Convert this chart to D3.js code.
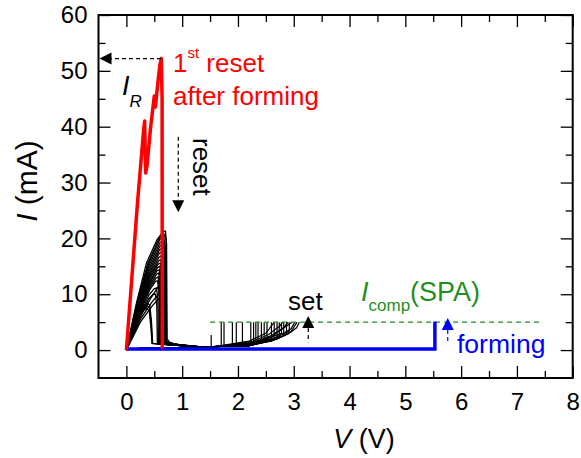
<!DOCTYPE html>
<html>
<head>
<meta charset="utf-8">
<script src="https://cdn.jsdelivr.net/npm/d3@7"></script>
<style>
  body { margin: 0; background: #fff; }
  text { font-family: "Liberation Sans", Arial, sans-serif; }
</style>
</head>
<body>
<div class="chart"></div>
<script>
// tick values
var xMajor = [0, 1, 2, 3, 4, 5, 6, 7, 8];
var xMinor = [0.5, 1.5, 2.5, 3.5, 4.5, 5.5, 6.5, 7.5];
var yMajor = [0, 10, 20, 30, 40, 50, 60];
var yMinor = [5, 15, 25, 35, 45, 55];

// forming sweep (blue) [V, mA]
var forming = [[0, 0.2], [5.53, 0.2], [5.53, 5.1]];

// first reset after forming (red)
var firstReset = [[0, 0], [0.2, 26.5], [0.31, 39.5], [0.327, 41], [0.345, 31.7], [0.37, 33],
  [0.43, 39.5], [0.5, 45.5], [0.52, 43.5], [0.56, 47.5], [0.6, 51], [0.625, 52.2],
  [0.64, 45], [0.643, 0.5], [0.66, 0.3]];

// repeated reset sweeps (black)
var resetCycles = [
  [[0, 0], [0.18, 8.4], [0.36, 15.6], [0.55, 19.8], [0.66, 21.2], [0.7, 21.3], [0.72, 19], [0.73, 2], [0.8, 1.0], [1.0, 0.8], [1.5, 0.5]],
  [[0, 0], [0.19, 8.5], [0.38, 15.4], [0.58, 19.9], [0.67, 20.8], [0.71, 20], [0.72, 1.6], [0.9, 0.9], [1.5, 0.5]],
  [[0, 0], [0.2, 8.5], [0.4, 15.5], [0.6, 19.8], [0.67, 20.3], [0.7, 18], [0.71, 1.5], [0.9, 0.9], [1.5, 0.5]],
  [[0, 0], [0.2, 8.2], [0.4, 15], [0.6, 19.2], [0.66, 19.6], [0.69, 17.5], [0.7, 1.5], [1.0, 0.8], [1.5, 0.45]],
  [[0, 0], [0.2, 8], [0.4, 14.5], [0.6, 18.6], [0.65, 19], [0.68, 17], [0.69, 1.5], [1.0, 0.8], [1.5, 0.45]],
  [[0, 0], [0.2, 7.8], [0.4, 14], [0.59, 17.9], [0.64, 18.3], [0.67, 16], [0.68, 1.4], [1.0, 0.8], [1.5, 0.45]],
  [[0, 0], [0.2, 7.5], [0.4, 13.5], [0.58, 17.2], [0.63, 17.6], [0.66, 15], [0.67, 1.4], [1.0, 0.8], [1.5, 0.45]],
  [[0, 0], [0.21, 7.5], [0.41, 13.3], [0.58, 16.6], [0.625, 16.9], [0.655, 14], [0.665, 1.3], [1.5, 0.4]],
  [[0, 0], [0.22, 7.6], [0.42, 13.2], [0.58, 16], [0.62, 16.2], [0.645, 13], [0.655, 1.3], [1.5, 0.4]],
  [[0, 0], [0.22, 7.4], [0.42, 12.8], [0.57, 15.4], [0.61, 15.6], [0.635, 12.5], [0.645, 1.2], [1.5, 0.4]],
  [[0, 0], [0.22, 7.2], [0.42, 12.3], [0.56, 14.8], [0.6, 15], [0.625, 12], [0.635, 1.2], [1.5, 0.4]],
  [[0, 0], [0.22, 7], [0.42, 12], [0.55, 14.2], [0.59, 14.4], [0.615, 11.5], [0.625, 1.2], [1.5, 0.4]],
  [[0, 0], [0.22, 6.8], [0.42, 11.6], [0.54, 13.6], [0.58, 13.8], [0.605, 11], [0.615, 1.2], [1.5, 0.4]],
  [[0, 0], [0.22, 6.5], [0.42, 11.2], [0.53, 12.9], [0.57, 13.1], [0.595, 10.5], [0.605, 1.1], [1.5, 0.4]],
  [[0, 0], [0.22, 6.3], [0.42, 10.8], [0.52, 12.3], [0.56, 12.4], [0.585, 10], [0.595, 1.1], [1.5, 0.4]],
  [[0, 0], [0.22, 5.8], [0.4, 9.8], [0.5, 11], [0.54, 11.1], [0.565, 9], [0.575, 1.1], [1.5, 0.4]],
  [[0, 0], [0.22, 5.5], [0.4, 9.2], [0.48, 10], [0.52, 10], [0.545, 8], [0.555, 1.1], [1.5, 0.4]],
  [[0, 0], [0.15, 4.5], [0.3, 7.8], [0.38, 8.4], [0.42, 8], [0.45, 5], [0.47, 1.2], [1.5, 0.4]],
  [[0, 0], [0.15, 4.2], [0.3, 7.3], [0.37, 7.9], [0.415, 7.5], [0.445, 4.5], [0.465, 1.2], [1.5, 0.4]],
  [[0, 0], [0.15, 4], [0.3, 7], [0.36, 7.5], [0.41, 7], [0.44, 4], [0.46, 1.2], [1.5, 0.4]],
  [[0, 0], [0.25, 6], [0.45, 9.5], [0.58, 11.5], [0.63, 11.8], [0.655, 9], [0.665, 1.2], [1.5, 0.4]],
  [[0, 0], [0.25, 5.5], [0.45, 8.5], [0.6, 10.3], [0.65, 10.5], [0.675, 8], [0.685, 1.2], [1.5, 0.4]],
  [[0, 0], [0.25, 5], [0.47, 8], [0.62, 9.6], [0.67, 9.8], [0.695, 7], [0.705, 1.2], [1.5, 0.4]]
];

// repeated set sweeps (black), stopped at compliance
var setCycles = [
  [[0, 0.2], [1.5, 0.5], [1.52, 0.6], [1.52, 2.7]],
  [[0, 0.2], [1.5, 0.6], [1.7, 0.7], [1.7, 5]],
  [[0, 0.2], [1.5, 0.6], [1.75, 0.7], [1.75, 5]],
  [[0, 0.2], [1.5, 0.6], [1.9, 0.7], [1.9, 5]],
  [[0, 0.2], [1.5, 0.6], [1.97, 0.75], [1.97, 5]],
  [[0, 0.2], [1.5, 0.6], [2.08, 0.8], [2.08, 5]],
  [[0, 0.2], [1.5, 0.6], [2.23, 0.85], [2.23, 5]],
  [[0, 0.2], [1.5, 0.6], [2.2, 0.8], [2.28, 1.0], [2.28, 5]],
  [[0, 0.2], [1.5, 0.6], [2.2, 0.8], [2.32, 1.1], [2.32, 5]],
  [[0, 0.2], [1.5, 0.6], [2.2, 0.8], [2.36, 1.2], [2.36, 5]],
  [[0, 0.2], [1.5, 0.6], [2.2, 0.8], [2.4, 1.3], [2.42, 1.35], [2.42, 5]],
  [[0, 0.2], [1.5, 0.6], [2.2, 0.8], [2.4, 1.3], [2.47, 1.5], [2.47, 5]],
  [[0, 0.2], [1.5, 0.6], [2.2, 0.9], [2.4, 1.5], [2.52, 1.8], [2.52, 5]],
  [[0, 0.2], [1.5, 0.6], [2.2, 0.8], [2.45, 1.4], [2.6, 1.7], [2.6, 5]],
  [[0, 0.2], [1.5, 0.6], [2.2, 1.0], [2.45, 1.8], [2.65, 2.5], [2.65, 5]],
  [[0, 0.2], [1.5, 0.6], [2.2, 0.8], [2.5, 1.5], [2.7, 2.0], [2.7, 5]],
  [[0, 0.2], [1.5, 0.6], [2.2, 0.8], [2.5, 1.5], [2.74, 2.2], [2.74, 5]],
  [[0, 0.2], [1.5, 0.6], [2.2, 1.1], [2.5, 2.0], [2.78, 3.0], [2.78, 5]],
  [[0, 0.2], [1.5, 0.6], [2.2, 0.8], [2.6, 1.7], [2.82, 2.5], [2.82, 5]],
  [[0, 0.2], [1.5, 0.6], [2.2, 0.8], [2.6, 1.7], [2.87, 2.8], [2.87, 5]],
  [[0, 0.2], [1.5, 0.6], [2.3, 1.2], [2.65, 2.2], [2.92, 3.4], [2.92, 5]],
  [[0, 0.2], [1.5, 0.6], [2.2, 0.9], [2.6, 1.6], [2.9, 2.9], [3.05, 4], [3.1, 5]],
  [[0, 0.2], [1.5, 0.5], [2.3, 1.2], [2.7, 2.3], [2.95, 3.8], [3.02, 5]],
  [[0, 0.2], [1.5, 0.5], [2.3, 1.1], [2.7, 2.0], [2.95, 3.3], [3.06, 5]],
  [[0, 0.2], [1.5, 0.5], [2.3, 1.4], [2.6, 2.4], [2.8, 3.8], [2.9, 5]],
  [[0, 0.2], [1.5, 0.5], [2.25, 1.3], [2.6, 2.6], [2.85, 4.2], [2.97, 5]],
  [[0, 0.2], [1.5, 0.5], [2.2, 1.6], [2.5, 3], [2.65, 5]],
  [[0, 0.2], [1.5, 0.5], [2.25, 1.5], [2.55, 2.8], [2.75, 4.3], [2.8, 5]]
];

var compliance = 5;
var compRange = [1.5, 7.47];

var W = 581, H = 458;
var margin = { top: 15, right: 8.3, bottom: 80, left: 98.5 };
var width = W - margin.left - margin.right;
var height = 378 - margin.top;

var svg = d3.select(".chart").append("svg")
  .attr("width", W).attr("height", H);

var g = svg.append("g")
  .attr("transform", `translate(${margin.left}, ${margin.top})`);

var x = d3.scaleLinear().domain([-0.5, 8]).range([0, width]);
var y = d3.scaleLinear().domain([-5, 60]).range([height, 0]);

var line = d3.line().x((d) => x(d[0])).y((d) => y(d[1]));

// curves
g.selectAll(".reset").data(resetCycles).enter().append("path")
  .attr("d", line).attr("fill", "none").attr("stroke", "#000").attr("stroke-width", 1.3);
g.selectAll(".set").data(setCycles).enter().append("path")
  .attr("d", line).attr("fill", "none").attr("stroke", "#000").attr("stroke-width", 1.2);

g.append("line")
  .attr("x1", x(compRange[0])).attr("x2", x(compRange[1]))
  .attr("y1", y(compliance)).attr("y2", y(compliance))
  .attr("stroke", "#1f8f1f").attr("stroke-width", 1.2).attr("stroke-dasharray", "5,4");

g.append("path").datum(forming).attr("d", line)
  .attr("fill", "none").attr("stroke", "#0000ff").attr("stroke-width", 3.5);
g.append("path").datum(firstReset).attr("d", line)
  .attr("fill", "none").attr("stroke", "#ff0000").attr("stroke-width", 3.5)
  .attr("stroke-linejoin", "round");

// axes, ticks pointing inward on all four sides
function styleAxis(sel) {
  sel.select(".domain").remove();
  sel.selectAll(".tick line").attr("stroke", "#000").attr("stroke-width", 1.3);
  sel.selectAll("text").attr("font-size", 24).attr("fill", "#000")
    .attr("font-family", "'Liberation Sans', Arial, sans-serif");
}
g.append("g").attr("transform", `translate(0, ${height})`)
  .call(d3.axisBottom(x).tickValues(xMajor).tickSize(-12).tickPadding(15)).call(styleAxis);
g.append("g").attr("transform", `translate(0, ${height})`)
  .call(d3.axisBottom(x).tickValues(xMinor).tickSize(-7).tickFormat("")).call(styleAxis);
g.append("g")
  .call(d3.axisTop(x).tickValues(xMajor).tickSize(-12).tickFormat("")).call(styleAxis);
g.append("g")
  .call(d3.axisTop(x).tickValues(xMinor).tickSize(-7).tickFormat("")).call(styleAxis);
g.append("g")
  .call(d3.axisLeft(y).tickValues(yMajor).tickSize(-12).tickPadding(11)).call(styleAxis);
g.append("g")
  .call(d3.axisLeft(y).tickValues(yMinor).tickSize(-7).tickFormat("")).call(styleAxis);
g.append("g").attr("transform", `translate(${width}, 0)`)
  .call(d3.axisRight(y).tickValues(yMajor).tickSize(-12).tickFormat("")).call(styleAxis);
g.append("g").attr("transform", `translate(${width}, 0)`)
  .call(d3.axisRight(y).tickValues(yMinor).tickSize(-7).tickFormat("")).call(styleAxis);

g.append("rect").attr("width", width).attr("height", height)
  .attr("fill", "none").attr("stroke", "#000").attr("stroke-width", 2);

// axis titles
svg.append("text").attr("x", 364).attr("y", 448).attr("text-anchor", "middle")
  .attr("font-size", 27)
  .html('<tspan font-style="italic">V</tspan> (V)');
svg.append("text").attr("transform", "translate(37, 181) rotate(-90)")
  .attr("text-anchor", "middle").attr("font-size", 30)
  .html('<tspan font-style="italic">I</tspan> (mA)');

// annotations
function arrowHead(cx, cy, dir, color) {
  var s = 6, l = 12, pts;
  if (dir === "left") pts = [[cx, cy], [cx + l, cy - s], [cx + l, cy + s]];
  if (dir === "down") pts = [[cx, cy], [cx - s, cy - l], [cx + s, cy - l]];
  if (dir === "up") pts = [[cx, cy], [cx - s, cy + l], [cx + s, cy + l]];
  g.append("path").attr("d", "M" + pts.join("L") + "Z").attr("fill", color);
}
function dashed(x1, y1, x2, y2, color) {
  g.append("line").attr("x1", x1).attr("y1", y1).attr("x2", x2).attr("y2", y2)
    .attr("stroke", color).attr("stroke-width", 1.2).attr("stroke-dasharray", "4,3");
}

// I_R arrow to the axis
dashed(x(0.62), y(52.2), x(-0.5) + 12, y(52.2), "#000");
arrowHead(x(-0.5) + 1, y(52.2), "left", "#000");
// reset arrow
dashed(x(0.93), y(38.2), x(0.93), y(24.7) - 12, "#000");
arrowHead(x(0.93), y(24.7), "down", "#000");
// set arrow
dashed(x(3.26), y(6.1) + 12, x(3.26), y(1.4), "#000");
arrowHead(x(3.26), y(6.1), "up", "#000");
// forming arrow
dashed(x(5.76), y(5.75) + 12, x(5.76), y(1.4), "#0000ff");
arrowHead(x(5.76), y(5.75), "up", "#0000ff");

svg.append("text").attr("x", 122).attr("y", 95).attr("font-size", 27)
  .html('<tspan font-style="italic">I</tspan><tspan font-style="italic" font-size="17" dy="12">R</tspan>');

svg.append("text").attr("x", 173).attr("y", 72).attr("font-size", 26).attr("fill", "#ff0000")
  .html('1<tspan font-size="15" dy="-14">st</tspan><tspan dy="14"> reset</tspan>');
svg.append("text").attr("x", 173).attr("y", 105).attr("font-size", 26).attr("fill", "#ff0000")
  .text("after forming");

svg.append("text").attr("transform", "translate(193, 138) rotate(90)")
  .attr("font-size", 26).attr("fill", "#000").text("reset");

svg.append("text").attr("x", 288).attr("y", 310).attr("font-size", 26).attr("fill", "#000")
  .text("set");

svg.append("text").attr("x", 361).attr("y", 301).attr("font-size", 27).attr("fill", "#1f8f1f")
  .html('<tspan font-style="italic">I</tspan><tspan font-size="17" dy="10">comp</tspan><tspan dy="-10">(SPA)</tspan>');

svg.append("text").attr("x", 457).attr("y", 353).attr("font-size", 26.5).attr("fill", "#0000ff")
  .text("forming");
</script>
</body>
</html>
